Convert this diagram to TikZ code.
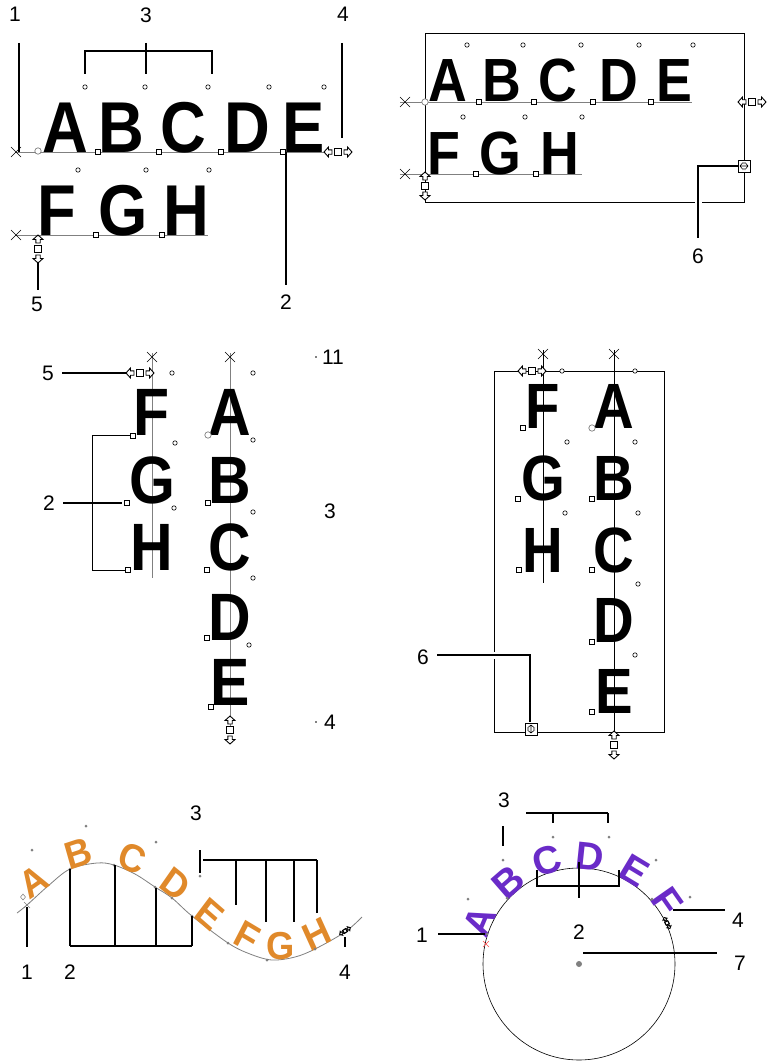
\documentclass[tikz,border=0pt]{standalone}
\usepackage{fontspec}
\setmainfont{Liberation Sans}
\definecolor{orng}{HTML}{E0892A}
\definecolor{orngdk}{HTML}{B8661A}
\definecolor{purp}{HTML}{6A2BC8}
\begin{document}
\begin{tikzpicture}[x=1pt,y=-1pt,
  lbl/.style={font=\fontsize{21}{21}\selectfont, inner sep=0pt},
  ln/.style={line width=1.4pt},
  baseln/.style={draw=gray, line width=0.8pt},
  frame/.style={line width=0.9pt},
  bigl/.style={font=\fontsize{#1}{#1}\selectfont\bfseries, inner sep=0pt, anchor=base, xscale=0.88},
  orl/.style={font=\fontsize{39}{39}\selectfont\bfseries, inner sep=0pt, anchor=base, text=orng, xscale=0.93},
  pul/.style={font=\fontsize{39}{39}\selectfont\bfseries, inner sep=0pt, anchor=base, text=purp},
  odot/.pic={\draw[line width=0.6pt, fill=white] (0,0) circle (2.2);},
  gdot/.pic={\draw[gray, line width=0.7pt, fill=white] (0,0) circle (3.2);},
  sdot/.pic={\fill[gray] (0,0) circle (1.5);},
  osq/.pic={\draw[line width=0.9pt, fill=white] (-2.4,-2.4) rectangle (2.4,2.4);},
  xmark/.pic={\draw[line width=0.6pt] (-5,-5)--(5,5) (-5,5)--(5,-5);},
  hhandle/.pic={
    \draw[line width=0.9pt, fill=white] (-14,0)--(-9.5,-5)--(-9.5,-2.2)--(-6,-2.2)--(-6,2.2)--(-9.5,2.2)--(-9.5,5)--cycle;
    \draw[line width=0.9pt, fill=white] (14,0)--(9.5,-5)--(9.5,-2.2)--(6,-2.2)--(6,2.2)--(9.5,2.2)--(9.5,5)--cycle;
    \draw[line width=1.1pt, fill=white] (-3.8,-3.8) rectangle (3.8,3.8);},
  sixbox/.pic={
    \draw[line width=0.7pt, fill=white] (-6,-6) rectangle (6,6);
    \draw[line width=0.6pt] (-4,0)--(4,0) (-2,-2.5)--(-4,0)--(-2,2.5) (2,-2.5)--(4,0)--(2,2.5)
      (-1,-4)--(-1,-2) (1,-4)--(1,-2) (-1,4)--(-1,2) (1,4)--(1,2);}
]
\useasboundingbox[fill=white] (0,0) rectangle (768,1062);

%================ Panel 1 ================
\draw[baseln] (15,152) -- (327,152);
\draw[baseln] (15,235) -- (208,235);
\node[bigl=72] (p1A) at (65,152) {A};
\node[bigl=72] (p1B) at (121,152) {B};
\node[bigl=72] (p1C) at (183,152) {C};
\node[bigl=72] (p1D) at (247,152) {D};
\node[bigl=72] (p1E) at (304,152) {E};
\node[bigl=72] (p1F) at (57,235) {F};
\node[bigl=72] (p1G) at (123,235) {G};
\node[bigl=72] (p1H) at (186,235) {H};
\pic at (16,152) {xmark};
\pic at (16,235) {xmark};
\pic at (38,151) {gdot};
\foreach \x in {98,159,221,283} \pic at (\x,152) {osq};
\foreach \x in {96,162} \pic at (\x,235) {osq};
\foreach \x in {85,145,208,269,324} \pic at (\x,87) {odot};
\foreach \x in {78,146,209} \pic at (\x,170) {odot};
\pic at (338,152) {hhandle};
\pic[rotate=90] at (38,249) {hhandle};
\node[lbl] (p1l1) at (15,14) {1};
\node[lbl] (p1l3) at (146,15) {3};
\node[lbl] (p1l4) at (343,14) {4};
\node[lbl] (p1l2) at (286,302) {2};
\node[lbl] (p1l5) at (37,304) {5};
\coordinate (p1c1a) at (19,43);   \coordinate (p1c1b) at (19,152);
\coordinate (p1c3) at (146,43);
\coordinate (p1c4a) at (342,43);  \coordinate (p1c4b) at (342,138);
\coordinate (p1c2a) at (286,152); \coordinate (p1c2b) at (286,285);
\coordinate (p1c5a) at (38,263);  \coordinate (p1c5b) at (38,290);
\draw[ln] (p1c1a) -- (p1c1b);
\draw[ln] (85,74) -- (85,51) -- (212,51) -- (212,74);
\draw[ln] (p1c3) -- (146,74);
\draw[ln] (p1c4a) -- (p1c4b);
\draw[ln] (p1c2a) -- (p1c2b);
\draw[ln] (p1c5a) -- (p1c5b);

%================ Panel 2 ================
\draw[frame] (425,33) rectangle (744,202);
\draw[baseln] (400,102) -- (692,102);
\draw[baseln] (400,174) -- (582,174);
\node[bigl=61] (p2A) at (448,102) {A};
\node[bigl=61] (p2B) at (502,102) {B};
\node[bigl=61] (p2C) at (558,102) {C};
\node[bigl=61] (p2D) at (619,102) {D};
\node[bigl=61] (p2E) at (674,102) {E};
\node[bigl=61] (p2F) at (444,174) {F};
\node[bigl=61] (p2G) at (500,174) {G};
\node[bigl=61] (p2H) at (560,174) {H};
\pic at (405,102) {xmark};
\pic at (405,174) {xmark};
\pic at (425,102) {gdot};
\foreach \x in {479,534,593,651} \pic at (\x,102) {osq};
\foreach \x in {476,536} \pic at (\x,174) {osq};
\foreach \x in {467,523,581,639,693} \pic at (\x,45) {odot};
\foreach \x in {463,525,582} \pic at (\x,117) {odot};
\pic at (752,102) {hhandle};
\pic[rotate=90] at (425,186) {hhandle};
\coordinate (p2box) at (744,166);
\coordinate (p2c6) at (698,238);
\draw[white, line width=7pt] (698,198) -- (698,206);
\draw[ln] (738,166) -- (698,166) -- (p2c6);
\pic at (p2box) {sixbox};
\node[lbl] (p2l6) at (698,256) {6};

%================ Panel 3 ================
\draw[baseln] (152,353) -- (152,578);
\draw[baseln] (230,353) -- (230,732);
\node[bigl=67] (p3F) at (152,435) {F};
\node[bigl=67] (p3G) at (152,503) {G};
\node[bigl=67] (p3H) at (152,570) {H};
\node[bigl=67] (p3A) at (230,435) {A};
\node[bigl=67] (p3B) at (230,503) {B};
\node[bigl=67] (p3C) at (230,570) {C};
\node[bigl=67] (p3D) at (230,640) {D};
\node[bigl=67] (p3E) at (230,705) {E};
\pic at (152,357) {xmark};
\pic at (230,357) {xmark};
\pic at (140,373) {hhandle};
\pic at (172,373) {odot};
\pic at (253,373) {odot};
\pic at (133,436) {osq}; \pic at (127,503) {osq}; \pic at (128,570) {osq};
\pic at (208,435) {gdot};
\pic at (208,503) {osq}; \pic at (207,570) {osq}; \pic at (207,638) {osq}; \pic at (211,707) {osq};
\pic at (175,443) {odot}; \pic at (174,508) {odot};
\pic at (253,440) {odot}; \pic at (253,512) {odot}; \pic at (253,578) {odot}; \pic at (249,645) {odot};
\pic[rotate=90] at (230,730) {hhandle};
\node[lbl] (p3l11) at (333,357) {11};
\node[lbl] (p3l3) at (330,511) {3};
\node[lbl] (p3l4) at (330,722) {4};
\node[lbl] (p3l5) at (48,373) {5};
\node[lbl] (p3l2) at (49,503) {2};
\fill (316,357) circle (0.8);
\fill (316,722) circle (0.8);
\draw[ln] (p3l5.east) ++(8,0) -- (126,373);
\draw[ln] (p3l2.east) ++(8,0) -- (122,503);
\draw[line width=1pt] (130,435) -- (92,435) -- (92,570) -- (125,570);

%================ Panel 4 ================
\draw[frame] (494,371) rectangle (664,732);
\draw[line width=0.8pt] (543,350) -- (543,583);
\draw[line width=0.8pt] (614,350) -- (614,732);
\node[bigl=64] (p4F) at (543,428) {F};
\node[bigl=64] (p4G) at (543,500) {G};
\node[bigl=64] (p4H) at (543,572) {H};
\node[bigl=64] (p4A) at (614,428) {A};
\node[bigl=64] (p4B) at (614,500) {B};
\node[bigl=64] (p4C) at (614,572) {C};
\node[bigl=64] (p4D) at (614,642) {D};
\node[bigl=64] (p4E) at (614,713) {E};
\pic at (543,354) {xmark};
\pic at (614,354) {xmark};
\pic at (532,371) {hhandle};
\pic at (562,371) {odot}; \pic at (635,371) {odot};
\pic at (523,428) {osq}; \pic at (518,499) {osq}; \pic at (519,570) {osq};
\pic at (592,428) {gdot};
\pic at (592,499) {osq}; \pic at (592,570) {osq}; \pic at (592,642) {osq}; \pic at (592,712) {osq};
\pic at (567,442) {odot}; \pic at (565,513) {odot};
\pic at (635,442) {odot}; \pic at (638,513) {odot}; \pic at (638,584) {odot}; \pic at (635,655) {odot};
\pic[rotate=90] at (614,745) {hhandle};
\node[lbl] (p4l6) at (423,657) {6};
\coordinate (p4box) at (531,729);
\draw[white, line width=7pt] (490,655) -- (498,655);
\draw[ln] (p4l6.east) ++(8,-2) -- (530,655) -- (530,722);
\pic[rotate=90] at (p4box) {sixbox};

%================ Panel 5 ================
\draw[gray, line width=0.8pt] plot[smooth, tension=0.55] coordinates {(17,913) (27,905) (48,886) (70,869) (97,863) (114,865) (135,874) (155,887) (172,898) (192,916) (228,943) (250,954) (272,960) (295,957) (315,949) (345,932) (362,917)};
\node[orl, rotate=33]  (wA) at (40,893) {A};
\node[orl, rotate=17]  (wB) at (82,866) {B};
\node[orl, rotate=-22] (wC) at (128,871) {C};
\node[orl, rotate=-37] (wD) at (168,895) {D};
\node[orl, rotate=-39] (wE) at (202,925) {E};
\node[orl, rotate=-29] (wF) at (241,948) {F};
\node[orl, rotate=0]   (wG) at (281,959) {G};
\node[orl, rotate=26]  (wH) at (322,946) {H};
\foreach \p in {(70,869),(114,865),(155,887),(172,898),(192,916),(228,943),(267,960),(315,949)} \pic at \p {sdot};
\pic at (32,850) {sdot}; \pic at (86,826) {sdot}; \pic at (156,842) {sdot}; \pic at (200,876) {sdot};
\draw[gray, line width=0.5pt] (23,894) -- (25.5,897) -- (23,900) -- (20.5,897) -- cycle;
\draw[gray, line width=0.5pt] (24,902) -- (30,908) (24,908) -- (30,902);
\pic[scale=0.45, rotate=33] at (345,931) {hhandle};
\node[lbl] (p5l1) at (27,972) {1};
\node[lbl] (p5l2) at (70,972) {2};
\node[lbl] (p5l3) at (196,813) {3};
\node[lbl] (p5l4) at (345,972) {4};
\draw[ln] (27,907) -- (27,947);
\draw[ln] (70,869) -- (70,946);
\draw[ln] (115,865) -- (115,946);
\draw[ln] (156,888) -- (156,946);
\draw[ln] (192,916) -- (192,946);
\draw[ln] (70,946) -- (192,946);
\draw[ln] (200,850) -- (200,873);
\draw[ln] (203,860) -- (317,860);
\draw[ln] (236,860) -- (236,905);
\draw[ln] (266,860) -- (266,922);
\draw[ln] (294,860) -- (294,922);
\draw[ln] (317,860) -- (317,913);
\draw[ln] (345,937) -- (345,947);

%================ Panel 6 ================
\coordinate (cc) at (579,964);
\draw[line width=0.6pt] (cc) circle (96);
\fill[gray] (cc) circle (3);
\foreach \a/\L in {157/A,131/B,107/C,84/D,59/E,35/F}
  \node[pul, rotate=\a-90] (c\L) at ({579+95*cos(\a)},{964-95*sin(\a)}) {\L};
\draw[red!70, line width=0.6pt] (483,941) -- (489,947) (483,947) -- (489,941);
\pic at (487,934) {sdot}; \pic at (507,898) {sdot}; \pic at (652,899) {sdot};
\foreach \p in {(468,899),(503,860),(553,837),(609,837),(656,860),(690,897)} \pic at \p {sdot};
\pic[scale=0.45, rotate=-62] at (667,923) {hhandle};
\node[lbl] (p6l1) at (422,935) {1};
\node[lbl] (p6l2) at (579,932) {2};
\node[lbl] (p6l3) at (504,800) {3};
\node[lbl] (p6l4) at (738,920) {4};
\node[lbl] (p6l7) at (740,963) {7};
\draw[ln] (438,934) -- (485,934);
\draw[ln] (579,862) -- (579,898);
\draw[ln] (537,870) -- (537,886) -- (619,886) -- (619,870);
\draw[ln] (503,826) -- (503,846);
\draw[ln] (526,813) -- (608,813);
\draw[ln] (553,813) -- (553,823);
\draw[ln] (608,813) -- (608,823);
\draw[ln] (673,910) -- (725,910);
\draw[ln] (583,953) -- (717,953);
\end{tikzpicture}
\end{document}
